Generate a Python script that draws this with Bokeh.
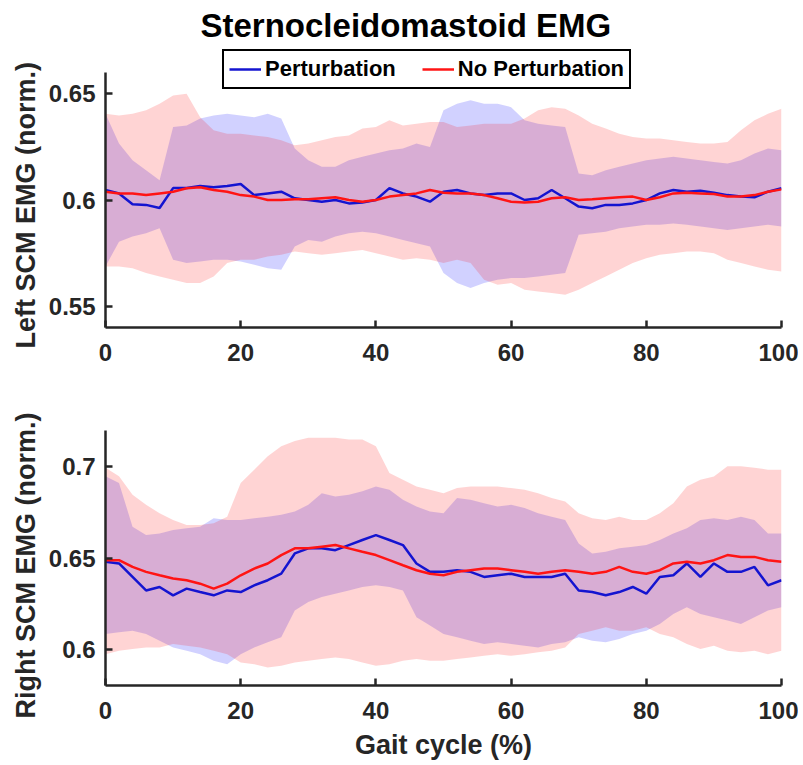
from bokeh.plotting import figure
from bokeh.layouts import column
from bokeh.models import Range1d, FixedTicker, NumeralTickFormatter, Legend, LegendItem, Title
from bokeh.embed import file_html
from bokeh.resources import INLINE

# ---------------- data ----------------
gait = list(range(0, 101, 2))

# Left SCM (top panel)
pert_mean_L = [0.6047, 0.6031, 0.5980, 0.5977, 0.5962, 0.6056, 0.6056, 0.6066, 0.6060, 0.6066, 0.6075,
               0.6023, 0.6031, 0.6039, 0.6008, 0.6000, 0.5992, 0.6000, 0.5984, 0.5988, 0.6000,
               0.6056, 0.6031, 0.6016, 0.5992, 0.6039, 0.6047, 0.6031, 0.6023, 0.6031, 0.6031,
               0.6000, 0.6008, 0.6047, 0.6008, 0.5969, 0.5961, 0.5977, 0.5977, 0.5984, 0.6000,
               0.6031, 0.6047, 0.6039, 0.6044, 0.6034, 0.6023, 0.6016, 0.6013, 0.6039, 0.6055]
nopert_mean_L = [0.6039, 0.6031, 0.6031, 0.6023, 0.6031, 0.6039, 0.6055, 0.6060, 0.6047, 0.6039, 0.6023,
                 0.6016, 0.6000, 0.6000, 0.6003, 0.6003, 0.6008, 0.6013, 0.6000, 0.5992, 0.6000,
                 0.6016, 0.6023, 0.6031, 0.6047, 0.6034, 0.6031, 0.6031, 0.6023, 0.6008, 0.5992,
                 0.5988, 0.5992, 0.6008, 0.6013, 0.6000, 0.6003, 0.6008, 0.6013, 0.6016, 0.6000,
                 0.6013, 0.6031, 0.6034, 0.6031, 0.6028, 0.6016, 0.6016, 0.6023, 0.6039, 0.6050]
pert_hi_L = [0.6406, 0.6266, 0.6187, 0.6140, 0.6093, 0.6344, 0.6351, 0.6383, 0.6398, 0.6406, 0.6398,
             0.6390, 0.6406, 0.6383, 0.6242, 0.6187, 0.6156, 0.6156, 0.6187, 0.6203, 0.6219,
             0.6234, 0.6242, 0.6266, 0.6250, 0.6422, 0.6453, 0.6469, 0.6453, 0.6453, 0.6437,
             0.6375, 0.6359, 0.6351, 0.6344, 0.6125, 0.6117, 0.6140, 0.6156, 0.6172, 0.6187,
             0.6195, 0.6203, 0.6195, 0.6187, 0.6179, 0.6172, 0.6187, 0.6219, 0.6242, 0.6234]
pert_lo_L = [0.5687, 0.5804, 0.5828, 0.5844, 0.5867, 0.5719, 0.5703, 0.5711, 0.5719, 0.5719, 0.5711,
             0.5695, 0.5679, 0.5672, 0.5781, 0.5812, 0.5804, 0.5828, 0.5844, 0.5851, 0.5844,
             0.5828, 0.5812, 0.5797, 0.5781, 0.5656, 0.5609, 0.5586, 0.5609, 0.5625, 0.5633,
             0.5633, 0.5640, 0.5648, 0.5656, 0.5836, 0.5844, 0.5851, 0.5867, 0.5875, 0.5883,
             0.5883, 0.5890, 0.5883, 0.5875, 0.5867, 0.5859, 0.5867, 0.5875, 0.5883, 0.5875]
nopert_hi_L = [0.6406, 0.6398, 0.6406, 0.6422, 0.6453, 0.6492, 0.6500, 0.6390, 0.6328, 0.6312, 0.6312,
               0.6304, 0.6297, 0.6281, 0.6258, 0.6266, 0.6281, 0.6297, 0.6304, 0.6336, 0.6344,
               0.6375, 0.6351, 0.6359, 0.6367, 0.6367, 0.6344, 0.6351, 0.6359, 0.6359, 0.6359,
               0.6383, 0.6422, 0.6437, 0.6429, 0.6398, 0.6359, 0.6336, 0.6312, 0.6297, 0.6289,
               0.6289, 0.6281, 0.6273, 0.6266, 0.6266, 0.6273, 0.6328, 0.6375, 0.6406, 0.6429]
nopert_lo_L = [0.5687, 0.5687, 0.5679, 0.5656, 0.5640, 0.5625, 0.5609, 0.5609, 0.5640, 0.5703, 0.5719,
               0.5719, 0.5734, 0.5742, 0.5758, 0.5750, 0.5742, 0.5750, 0.5758, 0.5765, 0.5750,
               0.5734, 0.5719, 0.5726, 0.5719, 0.5703, 0.5719, 0.5703, 0.5625, 0.5601, 0.5609,
               0.5578, 0.5570, 0.5562, 0.5554, 0.5578, 0.5609, 0.5640, 0.5672, 0.5703, 0.5726,
               0.5742, 0.5750, 0.5758, 0.5758, 0.5750, 0.5719, 0.5703, 0.5687, 0.5672, 0.5664]

# Right SCM (bottom panel)
pert_mean_R = [0.6479, 0.6470, 0.6396, 0.6322, 0.6341, 0.6295, 0.6332, 0.6313, 0.6295, 0.6322, 0.6313,
               0.6350, 0.6378, 0.6414, 0.6525, 0.6553, 0.6553, 0.6543, 0.6571, 0.6599, 0.6626,
               0.6599, 0.6571, 0.6470, 0.6424, 0.6424, 0.6433, 0.6424, 0.6396, 0.6405, 0.6414,
               0.6396, 0.6396, 0.6396, 0.6414, 0.6322, 0.6313, 0.6295, 0.6313, 0.6341, 0.6304,
               0.6396, 0.6405, 0.6470, 0.6396, 0.6470, 0.6424, 0.6424, 0.6451, 0.6350, 0.6378]
nopert_mean_R = [0.6488, 0.6488, 0.6451, 0.6424, 0.6405, 0.6387, 0.6378, 0.6359, 0.6332, 0.6359, 0.6405,
                 0.6442, 0.6470, 0.6516, 0.6553, 0.6553, 0.6562, 0.6571, 0.6553, 0.6534, 0.6516,
                 0.6488, 0.6460, 0.6433, 0.6414, 0.6405, 0.6424, 0.6433, 0.6442, 0.6442, 0.6433,
                 0.6424, 0.6414, 0.6424, 0.6433, 0.6424, 0.6414, 0.6424, 0.6451, 0.6424, 0.6414,
                 0.6433, 0.6470, 0.6479, 0.6470, 0.6488, 0.6516, 0.6506, 0.6506, 0.6488, 0.6479]
pert_hi_R = [0.6949, 0.6912, 0.6672, 0.6626, 0.6635, 0.6654, 0.6663, 0.6672, 0.6718, 0.6709, 0.6709,
             0.6718, 0.6727, 0.6737, 0.6755, 0.6792, 0.6856, 0.6838, 0.6847, 0.6866, 0.6893,
             0.6875, 0.6820, 0.6783, 0.6755, 0.6746, 0.6829, 0.6820, 0.6801, 0.6783, 0.6792,
             0.6774, 0.6746, 0.6727, 0.6709, 0.6580, 0.6525, 0.6534, 0.6553, 0.6562, 0.6571,
             0.6599, 0.6635, 0.6663, 0.6709, 0.6718, 0.6709, 0.6727, 0.6709, 0.6635, 0.6635]
pert_lo_R = [0.6083, 0.6092, 0.6101, 0.6083, 0.6046, 0.6009, 0.5991, 0.5972, 0.5936, 0.5917, 0.5972,
             0.6009, 0.6037, 0.6065, 0.6212, 0.6258, 0.6286, 0.6304, 0.6322, 0.6341, 0.6350,
             0.6341, 0.6322, 0.6175, 0.6129, 0.6083, 0.6065, 0.6046, 0.6028, 0.6037, 0.6028,
             0.6018, 0.6009, 0.6028, 0.6037, 0.6065, 0.6046, 0.6037, 0.6055, 0.6083, 0.6101,
             0.6138, 0.6193, 0.6230, 0.6193, 0.6175, 0.6157, 0.6138, 0.6175, 0.6212, 0.6230]
nopert_hi_R = [0.6995, 0.6949, 0.6847, 0.6792, 0.6746, 0.6709, 0.6681, 0.6681, 0.6691, 0.6727, 0.6912,
               0.6985, 0.7059, 0.7114, 0.7142, 0.7160, 0.7160, 0.7160, 0.7151, 0.7151, 0.7114,
               0.6967, 0.6930, 0.6893, 0.6875, 0.6856, 0.6884, 0.6893, 0.6893, 0.6893, 0.6884,
               0.6875, 0.6856, 0.6829, 0.6810, 0.6746, 0.6718, 0.6709, 0.6727, 0.6709, 0.6709,
               0.6746, 0.6801, 0.6893, 0.6930, 0.6948, 0.7004, 0.7004, 0.6995, 0.6985, 0.6985]
nopert_lo_R = [0.5972, 0.5991, 0.6000, 0.6009, 0.6009, 0.6028, 0.6018, 0.6009, 0.5991, 0.5972, 0.5926,
               0.5917, 0.5899, 0.5908, 0.5926, 0.5936, 0.5945, 0.5954, 0.5945, 0.5926, 0.5908,
               0.5917, 0.5936, 0.5945, 0.5936, 0.5936, 0.5945, 0.5954, 0.5963, 0.5972, 0.5963,
               0.5972, 0.5982, 0.5991, 0.6009, 0.6083, 0.6101, 0.6120, 0.6101, 0.6101, 0.6120,
               0.6083, 0.6065, 0.6028, 0.6000, 0.6018, 0.5991, 0.5982, 0.5991, 0.5972, 0.5991]

x_ticks = [0, 20, 40, 60, 80, 100]
y_ticks_L = [0.55, 0.6, 0.65]
y_ticks_R = [0.6, 0.65, 0.7]
y_lim_L = (0.54, 0.66)
y_lim_R = (0.58, 0.72)

# ---------------- style ----------------
FONT = "Liberation Sans"
AX = "#262626"
BLUE = "#1414d0"
RED = "#ff1414"


def style(p, yticks, ylim, ylabel, ylabel_offset, xlabel=None):
    p.xaxis.ticker = FixedTicker(ticks=x_ticks)
    p.yaxis.ticker = FixedTicker(ticks=yticks)
    p.yaxis.formatter = NumeralTickFormatter(format="0.0[0]")
    p.yaxis.bounds = ylim
    if xlabel:
        p.xaxis.axis_label = xlabel
    for ax in (p.xaxis[0], p.yaxis[0]):
        ax.axis_line_width = 2.5
        ax.axis_line_color = AX
        ax.major_tick_in = 7
        ax.major_tick_out = 0
        ax.minor_tick_line_color = None
        ax.major_tick_line_width = 2.5
        ax.major_tick_line_color = AX
        ax.major_label_text_font = FONT
        ax.major_label_text_font_style = "bold"
        ax.major_label_text_font_size = "24px"
        ax.major_label_text_color = AX
        ax.axis_label_text_font = FONT
        ax.axis_label_text_font_style = "bold"
        ax.axis_label_text_font_size = "27px"
        ax.axis_label_text_color = AX
    p.xaxis.major_label_standoff = 16
    p.yaxis.major_label_standoff = 10
    p.xaxis.axis_label_standoff = 8
    # y label as a side title so that it can be positioned along the axis
    p.add_layout(Title(text=ylabel, align="left", offset=ylabel_offset, standoff=10,
                       text_font=FONT, text_font_style="bold", text_font_size="27px",
                       text_color=AX), "left")
    p.grid.visible = False
    p.outline_line_color = None
    p.background_fill_color = "white"
    p.border_fill_color = "white"


def draw(p, mean_p, lo_p, hi_p, mean_n, lo_n, hi_n):
    p.varea(x=gait, y1=lo_p, y2=hi_p, fill_color="blue", fill_alpha=0.18)
    p.varea(x=gait, y1=lo_n, y2=hi_n, fill_color="red", fill_alpha=0.17)
    lb = p.line(gait, mean_p, line_color=BLUE, line_width=2.5)
    lr = p.line(gait, mean_n, line_color=RED, line_width=2.5)
    return lb, lr


# top frame is taller than the axis so the legend (which straddles the axis top) sits inside it
TOP_FRAME_H = 282
AXIS_H = 255
top_y_end = y_lim_L[0] + (y_lim_L[1] - y_lim_L[0]) * TOP_FRAME_H / AXIS_H

top = figure(width=798, height=400, x_range=Range1d(0, 100), y_range=Range1d(y_lim_L[0], top_y_end),
             output_backend="svg", toolbar_location=None,
             min_border_left=105, min_border_right=17, min_border_top=45, min_border_bottom=73)
style(top, y_ticks_L, y_lim_L, "Left SCM EMG (norm.)", -21)
lb, lr = draw(top, pert_mean_L, pert_lo_L, pert_hi_L, nopert_mean_L, nopert_lo_L, nopert_hi_L)
top.title.text = "Sternocleidomastoid EMG"
top.title.align = "left"
top.title.offset = 95
top.title.text_font = FONT
top.title.text_font_style = "bold"
top.title.text_font_size = "33px"
top.title.text_color = "black"
top.title.standoff = 4

legend = Legend(items=[LegendItem(label="Perturbation", renderers=[lb]),
                       LegendItem(label="No Perturbation", renderers=[lr])],
                location=(117, 238), orientation="horizontal",
                border_line_color="black", border_line_width=2.5, border_line_alpha=1,
                background_fill_color="white", background_fill_alpha=1,
                label_text_font=FONT, label_text_font_style="bold", label_text_font_size="22px",
                label_text_color="black",
                glyph_width=32, label_standoff=4, spacing=26, padding=5, margin=0)
top.add_layout(legend)

bottom = figure(width=798, height=365, x_range=Range1d(0, 100), y_range=Range1d(*y_lim_R),
                output_backend="svg", toolbar_location=None, title=None,
                min_border_left=105, min_border_right=17, min_border_top=30, min_border_bottom=80)
style(bottom, y_ticks_R, y_lim_R, "Right SCM EMG (norm.)", -33, "Gait cycle (%)")
draw(bottom, pert_mean_R, pert_lo_R, pert_hi_R, nopert_mean_R, nopert_lo_R, nopert_hi_R)

layout = column(top, bottom, spacing=0)
open("out.html", "w").write(file_html(layout, INLINE))
